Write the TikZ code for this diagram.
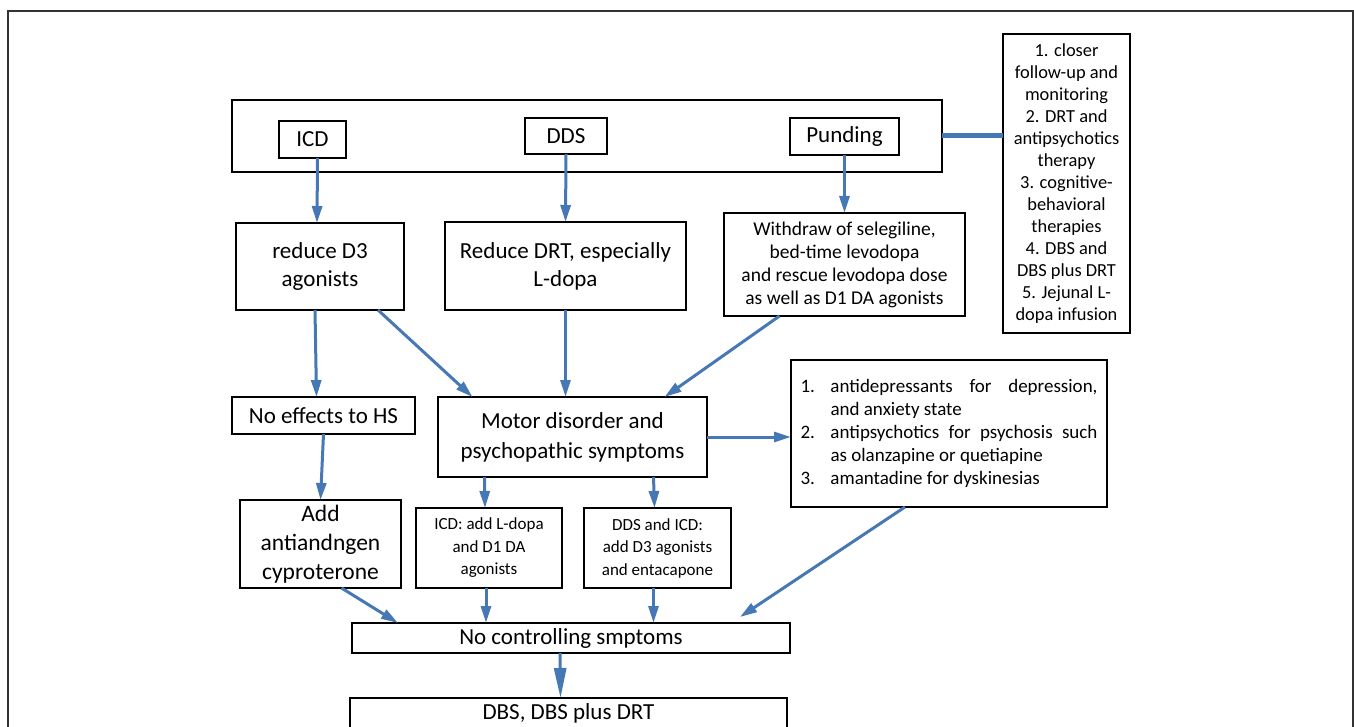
\documentclass[tikz,border=0pt]{standalone}
\usepackage{fontspec}
\setmainfont{Carlito}
\usepackage{xcolor}
\definecolor{arrblue}{RGB}{70,120,182}
\usepackage{tikz}
\usetikzlibrary{arrows.meta, positioning}

\begin{document}
\begin{tikzpicture}[x=1pt, y=-1pt,
  box/.style={draw, line width=2pt, inner sep=0pt, outer sep=0pt, align=center, font=\fontsize{23}{28}\selectfont},
  smallbox/.style={box, font=\fontsize{17}{22.5}\selectfont},
  arr/.style={-{Triangle[length=17pt,width=10pt]}, line width=3pt, arrblue},
  link/.style={line width=5pt, arrblue}
]
\useasboundingbox (0,0) rectangle (1354,727);
\draw[line width=1.5pt, black!80] (8,740) -- (8,11) -- (1353,11) -- (1353,740);

% Symptom row
\node[box, minimum width=710pt, minimum height=72pt] (GRP) at (587,136) {};
\node[box, minimum width=67pt, minimum height=37pt] (ICD) at (312.5,139.5) {ICD};
\node[box, minimum width=82pt, minimum height=36pt] (DDS) at (566,136) {DDS};
\node[box, minimum width=109pt, minimum height=37pt] (PUN) at (844.5,136.5) {Punding};
\node[smallbox, font=\fontsize{18.4}{22}\selectfont, minimum width=127pt, minimum height=299pt] (CARE) at (1066.5,183.5)
  {1. closer\\follow-up and\\monitoring\\2. DRT and\\antipsychotics\\therapy\\3. cognitive-\\behavioral\\therapies\\4. DBS and\\DBS plus DRT\\5. Jejunal L-\\dopa infusion};

% First treatment row
\node[box, minimum width=168pt, minimum height=87pt] (RD3) at (320,266.5) {reduce D3\\agonists};
\node[box, minimum width=241pt, minimum height=88pt] (RDRT) at (565.5,266) {Reduce DRT, especially\\L-dopa};
\node[box, font=\fontsize{19.5}{23}\selectfont, minimum width=241pt, minimum height=103pt] (WD) at (844.5,264.5)
  {Withdraw of selegiline,\\bed-time levodopa\\and rescue levodopa dose\\as well as D1 DA agonists};

% Middle row
\node[box, minimum width=183pt, minimum height=37pt] (NE) at (323.5,415.5) {No effects to HS};
\node[box, font=\fontsize{23}{30}\selectfont, minimum width=269pt, minimum height=80pt] (MD) at (572.5,437) {Motor disorder and\\psychopathic symptoms};
\node[box, font=\fontsize{19}{23}\selectfont, minimum width=316pt, minimum height=147pt] (DL) at (949,433.5)
  {\begin{tabular}{@{}p{30pt}@{}p{267pt}@{}}
   1. & antidepressants for depression,\linebreak and anxiety state\\
   2. & antipsychotics for psychosis such\linebreak as olanzapine or quetiapine\\
   3. & amantadine for dyskinesias
   \end{tabular}};

% Second treatment row
\node[box, font=\fontsize{23.5}{29}\selectfont, minimum width=161pt, minimum height=88pt] (AA) at (320.5,544) {Add\\antiandngen\\cyproterone};
\node[smallbox, minimum width=146pt, minimum height=80pt] (IA) at (489,548) {ICD: add L-dopa\\and D1 DA\\agonists};
\node[smallbox, minimum width=147pt, minimum height=80pt] (DA) at (657.5,548) {DDS and ICD:\\add D3 agonists\\and entacapone};

% Bottom row
\node[box, minimum width=438pt, minimum height=30pt] (NC) at (571,638) {No controlling smptoms};
\node[box, minimum width=437pt, minimum height=31pt] (DBS) at (568.5,713.5) {DBS, DBS plus DRT};

% Arrows
\draw[arr] ([xshift=5pt]ICD.south) -- ([xshift=-3pt]RD3.north);
\draw[arr] (DDS.south) -- (RDRT.north);
\draw[arr] (PUN.south) -- (WD.north);
\draw[link] (GRP.east) -- (GRP.east -| CARE.west);
\draw[arr] ([xshift=-5pt]RD3.south) -- ([xshift=-7pt]NE.north);
\draw[arr] ([xshift=58pt]RD3.south) -- ([xshift=-100pt]MD.north);
\draw[arr] (RDRT.south) -- (RDRT.south |- MD.north);
\draw[arr] ([xshift=-65pt]WD.south) -- ([xshift=92pt]MD.north);
\draw[arr] (NE.south) -- (AA.north);
\draw[arr] ([xshift=-88pt]MD.south) -- ([xshift=-4pt]IA.north);
\draw[arr] ([xshift=81pt]MD.south) -- ([xshift=-3pt]DA.north);
\draw[arr] (MD.east) -- (MD.east -| DL.west);
\draw[arr] ([xshift=-44pt]DL.south) -- ([xshift=169pt,yshift=6pt]NC.north);
\draw[arr] ([xshift=21pt]AA.south) -- ([xshift=-173pt]NC.north);
\draw[arr] ([xshift=-3pt]IA.south) -- ([xshift=-3pt]IA.south |- NC.north);
\draw[arr] ([xshift=-4pt]DA.south) -- ([xshift=-4pt]DA.south |- NC.north);
\draw[arr, -{Triangle[length=30pt,width=12pt]}] ([xshift=-11pt]NC.south) -- ([xshift=-8pt]DBS.north);

\end{tikzpicture}
\end{document}
